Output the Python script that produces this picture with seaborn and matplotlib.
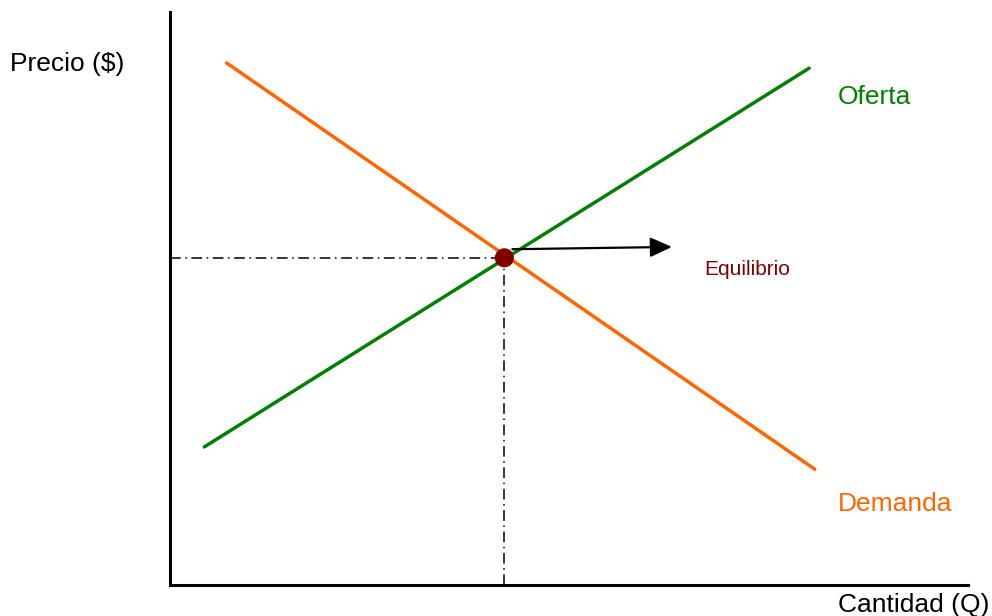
import numpy as np
import pandas as pd
import seaborn as sns
from matplotlib import pyplot as plt

# curve endpoints (arbitrary units, axes span 0-10)
cantidad_demanda = [0.71, 8.08]
precio_demanda = [9.11, 2.02]
cantidad_oferta = [0.43, 8.01]
precio_oferta = [2.41, 9.02]

# equilibrium point
q_eq = 4.19
p_eq = 5.71

sns.set_theme(style="white")
plt.rcParams['font.family'] = ['Liberation Sans', 'DejaVu Sans']

df = pd.concat([
    pd.DataFrame({'Q': cantidad_demanda, 'P': precio_demanda, 'curva': 'Demanda'}),
    pd.DataFrame({'Q': cantidad_oferta, 'P': precio_oferta, 'curva': 'Oferta'}),
])

fig = plt.figure(figsize=(9.92, 6.16), dpi=100)
ax = fig.add_axes([170 / 992, 31 / 616, 798 / 992, 573 / 616])

sns.lineplot(data=df, x='Q', y='P', hue='curva', sort=False,
             palette={'Demanda': '#ff6600', 'Oferta': '#008000'},
             linewidth=2.5, legend=False, ax=ax)

# dash-dot guides to the equilibrium
ax.plot([0, q_eq], [p_eq, p_eq], color='black', lw=1.1, linestyle=(0, (7, 3, 1, 3)))
ax.plot([q_eq, q_eq], [0, p_eq], color='black', lw=1.1, linestyle=(0, (7, 3, 1, 3)))

ax.annotate('', xy=(6.29, 5.90), xytext=(4.29, 5.86),
            arrowprops=dict(arrowstyle='-|>,head_length=1.1,head_width=0.5',
                            color='black', lw=1.6, shrinkA=0, shrinkB=0))
sns.scatterplot(x=[q_eq], y=[p_eq], color='#800000', s=190, edgecolor='none',
                zorder=5, ax=ax)

ax.text(8.37, 8.51, 'Oferta', color='#008000', fontsize=19, va='center')
ax.text(8.37, 1.41, 'Demanda', color='#ff6600', fontsize=19, va='center')
ax.text(6.69, 5.51, 'Equilibrio', color='#800000', fontsize=15, va='center')

fig.text(10 / 992, 1 - 64 / 616, 'Precio ($)', fontsize=19, va='center', color='black')
fig.text(838 / 992, 1 - 605 / 616, 'Cantidad (Q)', fontsize=19, va='center', color='black')

ax.set_xlim(0, 10)
ax.set_ylim(0, 10)
ax.set_xticks([])
ax.set_yticks([])
ax.set_xlabel('')
ax.set_ylabel('')
sns.despine(ax=ax)
for s in ['left', 'bottom']:
    ax.spines[s].set_color('black')
    ax.spines[s].set_linewidth(2.2)

fig.savefig('out.png', dpi=100)
